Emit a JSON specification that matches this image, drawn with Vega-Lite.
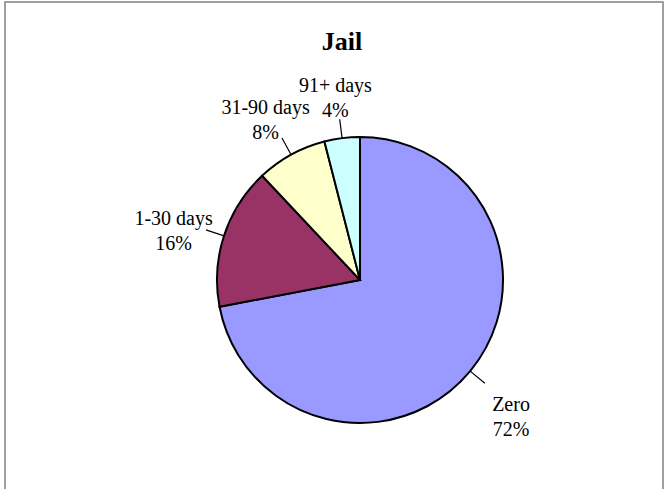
{
  "$schema": "https://vega.github.io/schema/vega-lite/v6.json",
  "autosize": "none",
  "width": 658,
  "height": 556,
  "padding": {"left": 5, "top": 2, "right": 3, "bottom": 0},
  "background": "white",
  "view": {"stroke": "#808080", "strokeWidth": 1.5, "fill": "white"},
  "config": {
    "view": {"stroke": "#808080", "strokeWidth": 1.5},
    "font": "Liberation Serif"
  },
  "title": {
    "text": "Jail",
    "font": "Liberation Serif",
    "fontSize": 26,
    "fontWeight": "bold",
    "color": "black",
    "anchor": "middle",
    "dx": 8,
    "dy": 57
  },
  "data": {
    "values": [
      {"category": "Zero", "value": 72, "order": 1},
      {"category": "1-30 days", "value": 16, "order": 2},
      {"category": "31-90 days", "value": 8, "order": 3},
      {"category": "91+ days", "value": 4, "order": 4}
    ]
  },
  "transform": [
    {"stack": "value", "groupby": [], "sort": [{"field": "order", "order": "ascending"}], "as": ["v0", "v1"]},
    {"calculate": "(datum.v0 + datum.v1) / 2", "as": "mid"},
    {"calculate": "datum.category + '\\n' + datum.value + '%'", "as": "label"}
  ],
  "layer": [
    {
      "mark": {"type": "arc", "outerRadius": 143, "stroke": "black", "strokeWidth": 2, "x": {"expr": "width/2 + 26"}},
      "encoding": {
        "theta": {"field": "v0", "type": "quantitative", "scale": {"domain": [0, 100]}, "stack": null},
        "theta2": {"field": "v1"},
        "color": {
          "field": "category",
          "type": "nominal",
          "scale": {"domain": ["Zero", "1-30 days", "31-90 days", "91+ days"], "range": ["#9999FF", "#993366", "#FFFFCC", "#CCFFFF"]},
          "legend": null
        }
      }
    },
    {
      "mark": {"type": "arc", "innerRadius": 143, "outerRadius": 162, "stroke": "black", "strokeWidth": 1.2, "fill": null, "x": {"expr": "width/2 + 26"}},
      "encoding": {
        "theta": {"field": "mid", "type": "quantitative", "scale": {"domain": [0, 100]}, "stack": null},
        "theta2": {"field": "mid"}
      }
    },
    {
      "mark": {"type": "text", "radius": 196, "font": "Liberation Serif", "fontSize": 20, "lineBreak": "\n", "lineHeight": 25, "align": "center", "baseline": "middle", "color": "black", "x": {"expr": "width/2 + 26"}},
      "encoding": {
        "theta": {"field": "mid", "type": "quantitative", "scale": {"domain": [0, 100]}, "stack": null},
        "text": {"field": "label"}
      }
    }
  ]
}
